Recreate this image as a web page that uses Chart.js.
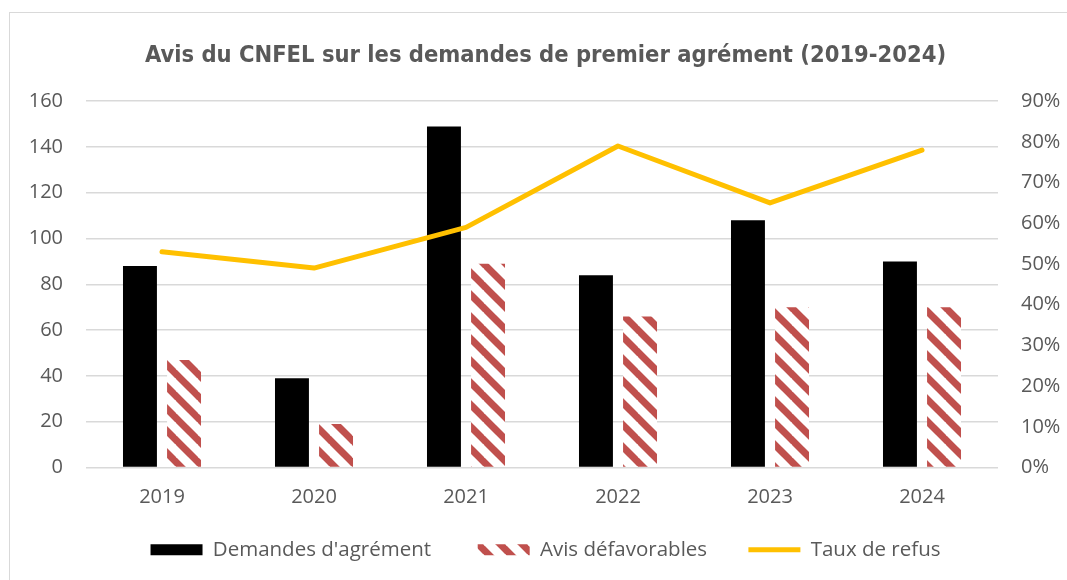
<!DOCTYPE html>
<html>
<head>
<meta charset="utf-8">
<script src="https://cdn.jsdelivr.net/npm/chart.js@4"></script>
<style>
  body { margin: 0; background: #fff; }
  #chart { display: block; }
</style>
</head>
<body>
<canvas id="chart" width="1067" height="580"></canvas>
<script>
// chart values
const years = ['2019', '2020', '2021', '2022', '2023', '2024'];
const demandes = [88, 39, 149, 84, 108, 90];
const avisDefavorables = [47, 19, 89, 66, 70, 70];
const tauxRefus = [0.53, 0.49, 0.59, 0.79, 0.65, 0.78];

const textColor = '#595959';
const gridColor = '#d9d9d9';

// red diagonal hatch, like Excel's wide downward diagonal
function makeHatch() {
    const size = 22;
    const tile = document.createElement('canvas');
    tile.width = size;
    tile.height = size;
    const c = tile.getContext('2d');
    c.fillStyle = '#ffffff';
    c.fillRect(0, 0, size, size);
    c.strokeStyle = '#c0504d';
    c.lineWidth = 7;
    for (let k = -1; k <= 1; k++) {
        c.beginPath();
        c.moveTo(-2, -2 + k * size);
        c.lineTo(size + 2, size + 2 + k * size);
        c.stroke();
    }
    return c.createPattern(tile, 'repeat');
}

const frame = {
    id: 'frame',
    beforeDraw(chart) {
        const ctx = chart.ctx;
        ctx.save();
        ctx.strokeStyle = gridColor;
        ctx.lineWidth = 1;
        ctx.strokeRect(9.5, 12.5, 1200, 700);
        ctx.restore();
    }
};

// extra room after a legend entry, in spaces
const legendGap = ['     ', '    ', ''];

const ctx = document.getElementById('chart').getContext('2d');

new Chart(ctx, {
    type: 'bar',
    data: {
        labels: years,
        datasets: [
            {
                label: "Demandes d'agrément",
                data: demandes,
                backgroundColor: '#000000',
                categoryPercentage: 0.58,
                barPercentage: 0.77,
                yAxisID: 'y',
                order: 1
            },
            {
                label: 'Avis défavorables',
                data: avisDefavorables,
                backgroundColor: makeHatch(),
                categoryPercentage: 0.58,
                barPercentage: 0.77,
                yAxisID: 'y',
                order: 1
            },
            {
                type: 'line',
                label: 'Taux de refus',
                data: tauxRefus,
                borderColor: '#ffc000',
                backgroundColor: '#ffc000',
                borderWidth: 5,
                borderCapStyle: 'round',
                borderJoinStyle: 'round',
                pointRadius: 0,
                tension: 0,
                yAxisID: 'y1',
                order: 0
            }
        ]
    },
    options: {
        responsive: false,
        animation: false,
        devicePixelRatio: 1,
        layout: {
            padding: { top: 20, left: 24, right: 0, bottom: 10 }
        },
        scales: {
            x: {
                grid: { display: false, drawTicks: false },
                border: { display: false },
                ticks: {
                    color: textColor,
                    font: { family: 'Open Sans', size: 20 },
                    padding: 18
                },
                afterFit: function(scale) {
                    scale.height = 52;
                }
            },
            y: {
                position: 'left',
                min: 0,
                max: 160,
                ticks: {
                    stepSize: 20,
                    color: textColor,
                    font: { family: 'Open Sans', size: 20 },
                    padding: 23
                },
                grid: { color: gridColor, lineWidth: 1.5, drawTicks: false },
                border: { display: false },
                afterFit: function(scale) {
                    scale.width = 62;
                }
            },
            y1: {
                position: 'right',
                min: 0,
                max: 0.9,
                ticks: {
                    stepSize: 0.1,
                    color: textColor,
                    font: { family: 'Open Sans', size: 20 },
                    padding: 23,
                    callback: function(value) {
                        return Math.round(value * 100) + '%';
                    }
                },
                grid: { display: false, drawTicks: false },
                border: { display: false },
                afterFit: function(scale) {
                    scale.width = 69;
                }
            }
        },
        plugins: {
            title: {
                display: true,
                text: 'Avis du CNFEL sur les demandes de premier agrément (2019-2024)',
                color: textColor,
                font: { family: "'DejaVu Sans Condensed', sans-serif", size: 23.5, weight: 'bold', lineHeight: 1.2 },
                padding: { top: 22, bottom: 31 }
            },
            legend: {
                position: 'bottom',
                labels: {
                    color: textColor,
                    font: { family: 'Open Sans', size: 20.5 },
                    usePointStyle: true,
                    pointStyleWidth: 52,
                    boxHeight: 11,
                    padding: 20,
                    sort: (a, b) => a.datasetIndex - b.datasetIndex,
                    generateLabels: function(chart) {
                        const items = Chart.defaults.plugins.legend.labels.generateLabels(chart);
                        items.forEach(item => {
                            item.pointStyle = item.datasetIndex === 2 ? 'line' : 'rect';
                            item.text = item.text + legendGap[item.datasetIndex];
                        });
                        return items;
                    }
                }
            },
            tooltip: { enabled: false }
        }
    },
    plugins: [frame]
});
</script>
</body>
</html>
